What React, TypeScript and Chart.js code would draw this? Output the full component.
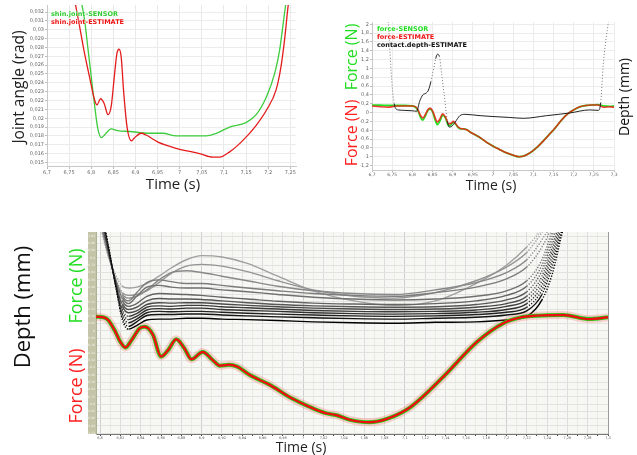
import React, { useEffect, useRef } from 'react';
import { Chart, registerables } from 'chart.js';
Chart.register(...registerables);
Chart.defaults.font.family = "'DejaVu Sans', sans-serif";

// ---------- Top-left: joint angle ----------
const angleSensorT = [6.776, 6.785, 6.793, 6.8, 6.808, 6.815, 6.823, 6.83, 6.845, 6.86, 6.887, 6.932, 6.962, 6.992, 7.06, 7.083, 7.113, 7.15, 7.173, 7.196, 7.215, 7.226, 7.233, 7.239, 7.243];
const angleSensor = [0.0336, 0.0311, 0.0277, 0.0247, 0.0213, 0.0188, 0.0178, 0.0181, 0.0188, 0.0186, 0.0185, 0.0183, 0.0183, 0.018, 0.018, 0.0183, 0.019, 0.0195, 0.0204, 0.0224, 0.0251, 0.0277, 0.0303, 0.0326, 0.034];
const angleEstimateT = [6.762, 6.774, 6.785, 6.796, 6.808, 6.813, 6.821, 6.829, 6.838, 6.845, 6.853, 6.858, 6.863, 6.868, 6.873, 6.881, 6.891, 6.898, 6.913, 6.924, 6.951, 6.992, 7.045, 7.075, 7.09, 7.113, 7.143, 7.173, 7.196, 7.218, 7.229, 7.237, 7.245, 7.25];
const angleEstimate = [0.0335, 0.0303, 0.0273, 0.0247, 0.022, 0.0215, 0.0222, 0.0217, 0.0204, 0.0213, 0.0251, 0.0273, 0.0278, 0.0268, 0.0232, 0.019, 0.01745, 0.0178, 0.0183, 0.0181, 0.0173, 0.0166, 0.016, 0.0156, 0.0156, 0.0162, 0.0175, 0.0192, 0.0209, 0.0232, 0.0258, 0.0288, 0.0326, 0.0345];

// ---------- Top-right: force + contact depth ----------
const forceT = [6.70, 6.72, 6.74, 6.76, 6.78, 6.80, 6.81, 6.815, 6.82, 6.826, 6.832, 6.838, 6.844, 6.85, 6.856, 6.862, 6.868, 6.875, 6.882, 6.89, 6.896, 6.902, 6.908, 6.914, 6.92, 6.928, 6.935, 6.945, 6.955, 6.97, 6.985, 7.0, 7.015, 7.03, 7.045, 7.065, 7.08, 7.095, 7.11, 7.125, 7.14, 7.155, 7.17, 7.185, 7.2, 7.215, 7.23, 7.245, 7.26, 7.275, 7.29, 7.30];
const forceSensor = [0.17, 0.17, 0.16, 0.16, 0.16, 0.15, 0.10, 0.02, -0.10, -0.17, -0.08, 0.04, 0.08, 0.02, -0.15, -0.27, -0.2, -0.06, -0.12, -0.30, -0.27, -0.22, -0.27, -0.34, -0.37, -0.37, -0.39, -0.45, -0.50, -0.58, -0.68, -0.76, -0.83, -0.90, -0.95, -1.0, -0.97, -0.89, -0.78, -0.64, -0.49, -0.34, -0.17, -0.03, 0.06, 0.13, 0.16, 0.17, 0.18, 0.15, 0.14, 0.15];
const forceEstimate = [0.15, 0.13, 0.12, 0.15, 0.15, 0.15, 0.12, 0.04, -0.06, -0.12, -0.05, 0.06, 0.10, 0.04, -0.10, -0.21, -0.15, -0.03, -0.10, -0.25, -0.24, -0.2, -0.26, -0.33, -0.36, -0.37, -0.39, -0.45, -0.50, -0.58, -0.68, -0.76, -0.83, -0.90, -0.95, -1.0, -0.97, -0.89, -0.78, -0.64, -0.49, -0.34, -0.17, -0.03, 0.06, 0.13, 0.16, 0.17, 0.17, 0.12, 0.13, 0.12];
const contactDepthT = [6.736, 6.741, 6.745, 6.75, 6.755, 6.76, 6.765, 6.78, 6.8, 6.811, 6.818, 6.826, 6.834, 6.84, 6.846, 6.853, 6.858, 6.862, 6.867, 6.873, 6.88, 6.887, 6.892, 6.899, 6.906, 6.918, 6.931, 6.968, 7.0, 7.04, 7.075, 7.133, 7.19, 7.24, 7.261, 7.267, 7.273, 7.28, 7.286, 7.292];
const contactDepth = [2.6, 2.0, 1.3, 0.6, 0.2, 0.08, 0.06, 0.05, 0.04, 0.03, 0.25, 0.4, 0.44, 0.51, 0.7, 1.0, 1.22, 1.32, 1.27, 0.85, 0.33, -0.2, -0.33, -0.3, -0.22, -0.07, -0.04, -0.07, -0.09, -0.11, -0.13, -0.07, -0.01, 0.06, 0.05, 0.22, 1.04, 1.65, 2.05, 2.6];

// ---------- Bottom: depth family + force ----------
const bottomForceT = [6.796, 6.803, 6.808, 6.815, 6.82, 6.825, 6.831, 6.839, 6.844, 6.852, 6.86, 6.867, 6.875, 6.883, 6.89, 6.901, 6.911, 6.918, 6.927, 6.935, 6.947, 6.967, 6.989, 7.006, 7.022, 7.032, 7.045, 7.065, 7.083, 7.106, 7.138, 7.171, 7.197, 7.213, 7.23, 7.256, 7.282, 7.3];
const bottomForce = [0.156, 0.15, 0.12, -0.007, -0.12, -0.18, -0.10, 0.029, 0.047, -0.04, -0.28, -0.21, -0.09, -0.19, -0.31, -0.23, -0.32, -0.38, -0.37, -0.39, -0.48, -0.59, -0.74, -0.83, -0.90, -0.92, -0.97, -1.0, -0.96, -0.83, -0.50, -0.12, 0.085, 0.146, 0.168, 0.175, 0.13, 0.15];
const depthT = [6.800, 6.808, 6.816, 6.822, 6.828, 6.836, 6.846, 6.858, 6.870, 6.885, 6.900, 6.920, 6.945, 6.975, 7.010, 7.050, 7.090, 7.130, 7.170, 7.200, 7.220, 7.235, 7.245, 7.255, 7.265];
const depthC0 = [1.4, 0.95, 0.45, 0.12, 0.02, 0.06, 0.12, 0.13, 0.13, 0.14, 0.14, 0.13, 0.125, 0.115, 0.10, 0.09, 0.085, 0.095, 0.10, 0.12, 0.16, 0.34, 0.62, 1.08, 1.5];
const depthC1 = [1.38, 0.93, 0.46, 0.15, 0.05, 0.10, 0.17, 0.18, 0.18, 0.186, 0.186, 0.175, 0.165, 0.155, 0.145, 0.135, 0.13, 0.14, 0.15, 0.175, 0.22, 0.40, 0.70, 1.12, 1.55];
const depthC2 = [1.36, 0.92, 0.47, 0.18, 0.09, 0.13, 0.20, 0.215, 0.21, 0.215, 0.215, 0.205, 0.195, 0.185, 0.175, 0.165, 0.16, 0.165, 0.18, 0.205, 0.26, 0.45, 0.76, 1.16, 1.6];
const depthC3 = [1.34, 0.91, 0.48, 0.21, 0.125, 0.16, 0.23, 0.245, 0.24, 0.25, 0.25, 0.235, 0.225, 0.215, 0.2, 0.19, 0.185, 0.19, 0.205, 0.235, 0.3, 0.5, 0.82, 1.2, 1.65];
const depthC4 = [1.32, 0.9, 0.49, 0.24, 0.16, 0.19, 0.26, 0.275, 0.27, 0.28, 0.28, 0.265, 0.255, 0.24, 0.225, 0.215, 0.21, 0.215, 0.23, 0.27, 0.34, 0.55, 0.87, 1.25, 1.7];
const depthC5 = [1.3, 0.89, 0.5, 0.27, 0.2, 0.22, 0.29, 0.31, 0.305, 0.31, 0.31, 0.295, 0.28, 0.265, 0.25, 0.24, 0.235, 0.24, 0.26, 0.3, 0.38, 0.6, 0.92, 1.3, 1.75];
const depthC6 = [1.28, 0.88, 0.51, 0.3, 0.235, 0.26, 0.33, 0.355, 0.35, 0.35, 0.345, 0.33, 0.31, 0.29, 0.275, 0.265, 0.26, 0.265, 0.29, 0.34, 0.43, 0.66, 0.98, 1.35, 1.8];
const depthC7 = [1.26, 0.87, 0.52, 0.33, 0.27, 0.3, 0.38, 0.41, 0.405, 0.40, 0.39, 0.37, 0.35, 0.325, 0.305, 0.295, 0.29, 0.3, 0.33, 0.39, 0.49, 0.72, 1.04, 1.4, 1.85];
const depthC8 = [1.24, 0.86, 0.53, 0.36, 0.3, 0.38, 0.48, 0.5, 0.48, 0.47, 0.47, 0.45, 0.43, 0.4, 0.37, 0.35, 0.34, 0.35, 0.38, 0.44, 0.55, 0.78, 1.1, 1.45, 1.9];
const depthC9 = [1.22, 0.85, 0.54, 0.38, 0.33, 0.42, 0.53, 0.56, 0.54, 0.52, 0.52, 0.5, 0.47, 0.44, 0.41, 0.39, 0.38, 0.42, 0.48, 0.57, 0.70, 0.92, 1.15, 1.5, 1.95];
const depthC10 = [1.2, 0.84, 0.55, 0.4, 0.36, 0.38, 0.45, 0.56, 0.64, 0.66, 0.64, 0.6, 0.55, 0.49, 0.44, 0.41, 0.40, 0.45, 0.53, 0.64, 0.78, 1.0, 1.2, 1.55, 2.0];
const depthC11 = [1.18, 0.83, 0.56, 0.42, 0.39, 0.4, 0.44, 0.53, 0.63, 0.71, 0.73, 0.71, 0.65, 0.55, 0.45, 0.38, 0.36, 0.42, 0.55, 0.70, 0.86, 1.08, 1.25, 1.6, 2.0];
const depthC12 = [1.16, 0.82, 0.6, 0.49, 0.47, 0.48, 0.52, 0.6, 0.69, 0.78, 0.825, 0.81, 0.74, 0.6, 0.44, 0.33, 0.28, 0.33, 0.52, 0.72, 0.92, 1.12, 1.3, 1.65, 2.0];
const depthFamily = [depthC0, depthC1, depthC2, depthC3, depthC4, depthC5, depthC6, depthC7, depthC8, depthC9, depthC10, depthC11, depthC12];
const familyColors = ['#000000', '#141414', '#222222', '#303030', '#3d3d3d', '#4a4a4a', '#575757', '#646464', '#707070', '#7c7c7c', '#888888', '#949494', '#a0a0a0'];

const pts = (t: number[], v: number[]) => t.map((x, i) => ({ x, y: v[i] }));
const fmt = (v: any) => String(Math.round(Number(v) * 10000) / 10000).replace('.', ',');
const fixW = (w: number) => (s: any) => { s.width = w; };
const fixH = (h: number) => (s: any) => { s.height = h; };
const steep = (lim: number) => (ctx: any) => {
  const dx = ctx.p1.parsed.x - ctx.p0.parsed.x;
  const dy = ctx.p1.parsed.y - ctx.p0.parsed.y;
  return Math.abs(dy / dx) > lim;
};

const bgPlugin: any = {
  id: 'bg',
  beforeDraw(chart: any, _a: any, opts: any) {
    const { ctx, chartArea: a } = chart;
    ctx.save();
    if (opts.plot) {
      ctx.fillStyle = opts.plot;
      ctx.fillRect(a.left, a.top, a.right - a.left, a.bottom - a.top);
    }
    if (opts.band) {
      const y = chart.scales.y;
      ctx.fillStyle = opts.band;
      ctx.fillRect(y.left, a.top, y.right - y.left, a.bottom - a.top);
    }
    ctx.restore();
  },
};

const tickFont = { size: 5, family: "'DejaVu Sans', sans-serif" };

function makeTopLeft(): any {
  return {
    type: 'line',
    data: {
      datasets: [
        { data: pts(angleEstimateT, angleEstimate), borderColor: '#e41b1b', borderWidth: 1.3, pointRadius: 0, cubicInterpolationMode: 'monotone' },
        { data: pts(angleSensorT, angleSensor), borderColor: '#3ccc3c', borderWidth: 1.3, pointRadius: 0, cubicInterpolationMode: 'monotone' },
      ],
    },
    options: {
      animation: false, responsive: false,
      layout: { padding: { left: 27, right: 14, top: 5, bottom: 22 } },
      plugins: { legend: { display: false }, tooltip: { enabled: false }, bg: { plot: '#ffffff' } },
      scales: {
        x: {
          type: 'linear', min: 6.7, max: 7.263, afterFit: fixH(12),
          ticks: { stepSize: 0.05, autoSkip: false, includeBounds: false, maxRotation: 0, font: tickFont, color: '#666', padding: 1, callback: fmt },
          grid: { color: '#e9e9e9', tickLength: 3, tickColor: '#bbb' }, border: { color: '#c8c8c8' },
        },
        y: {
          type: 'linear', min: 0.0146, max: 0.0328, afterFit: fixW(20),
          ticks: { stepSize: 0.001, autoSkip: false, includeBounds: false, font: tickFont, color: '#666', padding: 1, callback: fmt },
          grid: { color: '#ececec', tickLength: 2, tickColor: '#bbb' }, border: { color: '#c8c8c8' },
        },
      },
    },
    plugins: [bgPlugin],
  };
}

function makeTopRight(): any {
  return {
    type: 'line',
    data: {
      datasets: [
        {
          data: pts(contactDepthT, contactDepth), borderColor: '#222', borderWidth: 1, pointRadius: 0, cubicInterpolationMode: 'monotone',
          segment: {
            borderDash: (ctx: any) => (steep(35)(ctx) ? [1, 2] : undefined),
            borderColor: (ctx: any) => (steep(35)(ctx) ? '#777' : undefined),
          },
        },
        { data: pts(forceT, forceEstimate), borderColor: 'rgba(236,28,20,0.85)', borderWidth: 1.6, pointRadius: 0, cubicInterpolationMode: 'monotone' },
        { data: pts(forceT, forceSensor), borderColor: '#25e025', borderWidth: 1.8, pointRadius: 0, cubicInterpolationMode: 'monotone' },
      ],
    },
    options: {
      animation: false, responsive: false,
      layout: { padding: { left: 30, right: 23, top: 22, bottom: 22 } },
      plugins: { legend: { display: false }, tooltip: { enabled: false }, bg: { plot: '#ffffff' } },
      scales: {
        x: {
          type: 'linear', min: 6.7, max: 7.3, afterFit: fixH(8),
          ticks: { stepSize: 0.05, autoSkip: false, includeBounds: false, maxRotation: 0, font: { ...tickFont, size: 4.5 }, color: '#666', padding: 0, callback: fmt },
          grid: { color: '#ececec', tickLength: 2, tickColor: '#bbb' }, border: { color: '#c8c8c8' },
        },
        y: {
          type: 'linear', min: -1.3, max: 2.05, afterFit: fixW(12),
          ticks: { stepSize: 0.2, autoSkip: false, includeBounds: false, font: tickFont, color: '#666', padding: 1, callback: fmt },
          grid: { color: '#ececec', tickLength: 2, tickColor: '#bbb' }, border: { color: '#c8c8c8' },
        },
      },
    },
    plugins: [bgPlugin],
  };
}

function makeBottom(): any {
  const fam = depthFamily.map((arr, i) => ({
    data: pts(depthT, arr), borderColor: familyColors[i], borderWidth: 1.4, pointRadius: 0, cubicInterpolationMode: 'monotone',
    segment: { borderDash: (ctx: any) => (steep(12)(ctx) ? [1.2, 1.6] : undefined) },
  }));
  return {
    type: 'line',
    data: {
      datasets: [
        { data: pts(bottomForceT, bottomForce), borderColor: '#ee1010', borderWidth: 2.4, pointRadius: 0, cubicInterpolationMode: 'monotone' },
        { data: pts(bottomForceT, bottomForce), borderColor: '#18d818', borderWidth: 4, pointRadius: 0, cubicInterpolationMode: 'monotone' },
        { data: pts(bottomForceT, bottomForce), borderColor: 'rgba(255,70,70,0.22)', borderWidth: 8, pointRadius: 0, cubicInterpolationMode: 'monotone' },
        ...fam,
      ],
    },
    options: {
      animation: false, responsive: false,
      layout: { padding: { left: 88, right: 29, top: 17, bottom: 15 } },
      plugins: { legend: { display: false }, tooltip: { enabled: false }, bg: { plot: '#f7f7f3', band: '#c4c4a8' } },
      scales: {
        x: {
          type: 'linear', min: 6.796, max: 7.3, afterFit: fixH(6),
          ticks: {
            stepSize: 0.01, autoSkip: false, includeBounds: false, maxRotation: 0, font: { ...tickFont, size: 3.5 }, color: '#555', padding: 0,
            callback: (v: any) => (Math.round(Number(v) * 100) % 2 === 0 ? fmt(v) : ''),
          },
          grid: {
            color: (c: any) => {
              const k = Math.round(c.tick.value * 100);
              if (k === 730) return '#9a9a9a';
              if (k % 10 === 0) return '#cfcfcf';
              return k % 2 === 0 ? '#dddddd' : '#e9e9e6';
            },
            tickLength: 2, tickColor: '#444',
          },
          border: { color: '#777' },
        },
        y: {
          type: 'linear', min: -1.128, max: 1.084, afterFit: fixW(8),
          ticks: { stepSize: 0.08, autoSkip: false, includeBounds: false, font: { ...tickFont, size: 3 }, color: '#f2f2e6', padding: 0, callback: fmt },
          grid: { color: '#e2e2de', tickLength: 1, tickColor: '#c4c4a8' }, border: { color: '#b0b098' },
        },
      },
    },
    plugins: [bgPlugin],
  };
}

function ChartCanvas({ left, top, width, height, make }: any) {
  const ref = useRef<HTMLCanvasElement>(null);
  useEffect(() => {
    const chart = new Chart(ref.current as HTMLCanvasElement, make());
    return () => chart.destroy();
  }, []);
  return <canvas ref={ref} width={width} height={height} style={{ position: 'absolute', left, top, width, height }} />;
}

const TITLE_FONT = "'Open Sans', 'Noto Sans', sans-serif";

function Label({ x, y, size, color, text, rotate }: any) {
  return (
    <div style={{
      position: 'absolute', left: x, top: y, transform: `translate(-50%, -50%)${rotate ? ' rotate(-90deg)' : ''}`,
      fontSize: size, color, whiteSpace: 'nowrap', fontFamily: TITLE_FONT, lineHeight: 1,
    }}>{text}</div>
  );
}

function Legend({ x, y, color, text }: any) {
  return (
    <div style={{
      position: 'absolute', left: x, top: y - 4, fontSize: 6.5, fontWeight: 'bold', color, whiteSpace: 'nowrap',
      fontFamily: "'DejaVu Sans', sans-serif", lineHeight: '8px', textShadow: '0 0 1px #fff, 0 0 2px #fff',
    }}>{text}</div>
  );
}

export default function App() {
  return (
    <div style={{ position: 'absolute', left: 0, top: 0, width: 637, height: 455, background: '#ffffff', overflow: 'hidden' }}>
      <ChartCanvas left={0} top={0} width={310} height={200} make={makeTopLeft} />
      <ChartCanvas left={330} top={0} width={307} height={200} make={makeTopRight} />
      <ChartCanvas left={0} top={215} width={637} height={240} make={makeBottom} />

      <Label x={19} y={87} size={15.5} color="#222" text="Joint angle (rad)" rotate />
      <Label x={173} y={183} size={15} color="#222" text="Time (s)" />
      <Legend x={51} y={14} color="#33cc33" text="shin.joint-SENSOR" />
      <Legend x={51} y={22} color="#ee1515" text="shin.joint-ESTIMATE" />

      <Label x={351} y={57} size={16} color="#22dd22" text="Force (N)" rotate />
      <Label x={351} y={133} size={16} color="#ff2020" text="Force (N)" rotate />
      <Label x={624} y={97} size={14} color="#111" text="Depth (mm)" rotate />
      <Label x={491} y={185} size={14} color="#222" text="Time (s)" />
      <Legend x={377} y={29} color="#22dd22" text="force-SENSOR" />
      <Legend x={377} y={37} color="#ee1515" text="force-ESTIMATE" />
      <Legend x={377} y={45} color="#111" text="contact.depth-ESTIMATE" />

      <Label x={21} y={307} size={22} color="#111" text="Depth (mm)" rotate />
      <Label x={75} y={286} size={18} color="#22dd22" text="Force (N)" rotate />
      <Label x={75} y={386} size={18} color="#ff2020" text="Force (N)" rotate />
      <Label x={301} y={447} size={14} color="#222" text="Time (s)" />
    </div>
  );
}
